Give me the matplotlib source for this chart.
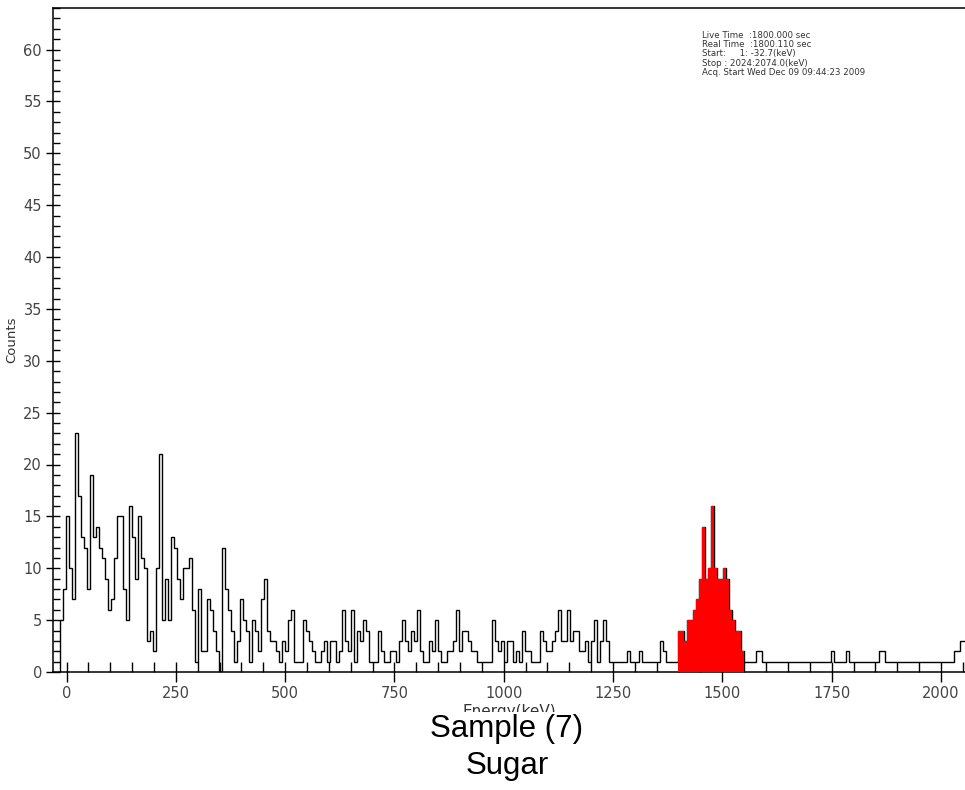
import numpy as np
import matplotlib
matplotlib.use("Agg")
import matplotlib.pyplot as plt
from matplotlib.patches import Rectangle
from matplotlib.ticker import MultipleLocator

# channel calibration (keV)
e_start = -14.0
e_width = 6.86

# counts per channel left to right
counts_low = [5, 8, 15, 10, 7, 23, 17, 13, 12, 8, 19, 13, 14, 12, 11, 9, 6, 7, 11, 15,
              15, 8, 5, 16, 13, 9, 15, 11, 10, 3, 4, 2, 10, 21, 5, 9, 5, 13, 12, 9,
              7, 10, 10, 11, 6, 1, 8, 2]
counts_mid1 = [2, 7, 6, 4, 2, 0, 12, 8, 6, 4, 1, 3, 7, 5, 4, 1, 5, 4, 2, 7,
               9, 4, 3, 3, 2, 1, 3, 2, 5, 6, 1, 1, 1, 5, 4, 3, 2, 1, 1, 2,
               3, 1, 3, 3, 1, 2, 6]
counts_mid2 = [3, 2, 6, 1, 4, 3, 5, 4, 1, 1, 1, 4, 2, 1, 1, 2, 2, 1, 3, 5,
               3, 2, 4, 3, 6, 2, 1, 1, 3, 2, 5, 2, 1, 1, 2, 2, 3, 6, 2, 4,
               4, 3, 2, 2, 1, 1, 1, 1, 1, 5, 3]
counts_mid3 = [2, 3, 1, 3, 3, 1, 2, 1, 4, 2, 2, 1, 1, 1, 4, 3, 2, 2, 3, 4,
               6, 3, 3, 6, 3, 4, 4, 2, 2, 3, 1, 3, 5, 1, 3, 5, 3, 1, 1, 1,
               1, 1, 1, 2, 1, 1, 1, 2, 1, 1, 1, 1, 1, 1]
counts_pre = [3, 2, 1, 1, 1, 1]
counts_peak = [4, 4, 3, 5, 5, 6, 7, 9, 14, 9, 10, 16, 10, 9, 9, 10, 9, 6, 5, 4, 4, 2]
counts_tail = [1, 1, 1, 1, 2, 2, 1, 1, 1, 1, 1, 1, 1, 1, 1, 1, 1, 1, 1, 1,
               1, 1, 1, 1, 1, 1, 1, 1, 1, 2, 1, 1, 1, 1, 2, 1, 1, 1, 1, 1,
               1, 1, 1, 1, 1, 2, 2, 1, 1, 1, 1, 1, 1, 1, 1, 1, 1, 1, 1, 1,
               1, 1, 1, 1, 1, 1, 1, 1, 1, 1, 2, 2, 3, 3]

info_lines = [
    "Live Time  :1800.000 sec",
    "Real Time  :1800.110 sec",
    "Start:     1: -32.7(keV)",
    "Stop : 2024:2074.0(keV)",
    "Acq. Start Wed Dec 09 09:44:23 2009",
]

narrow = ["Liberation Sans Narrow", "DejaVu Sans"]

counts = np.array(counts_low + counts_mid1 + counts_mid2 + counts_mid3
                  + counts_pre + counts_peak + counts_tail, dtype=float)
edges = e_start + e_width * np.arange(len(counts) + 1)
i0 = len(counts_low + counts_mid1 + counts_mid2 + counts_mid3 + counts_pre)
peak_edges = edges[i0:i0 + len(counts_peak) + 1]

fig = plt.figure(figsize=(9.65, 7.9), dpi=100)
ax = fig.add_axes([53 / 965, 1 - 672 / 790, 1 - 53 / 965, (672 - 8) / 790])

ax.stairs(counts, edges, color="k", lw=1.0)
ax.stairs(counts_peak, peak_edges, fill=True, color="#ff0000", lw=0, zorder=3)

ax.set_xlim(-31, 2055)
ax.set_ylim(0, 64)

ax.xaxis.set_major_locator(MultipleLocator(250))
ax.xaxis.set_minor_locator(MultipleLocator(50))
ax.yaxis.set_major_locator(MultipleLocator(5))
ax.yaxis.set_minor_locator(MultipleLocator(1))
ax.set_xticks([0, 250, 500, 750, 1000, 1250, 1500, 1750, 2000])
ax.tick_params(axis="x", which="major", direction="inout", length=14, width=1.0,
               pad=3, labelsize=10.5, labelcolor="#444444")
ax.tick_params(axis="x", which="minor", direction="in", length=7, width=1.0)
ax.tick_params(axis="y", which="major", direction="inout", length=10, width=1.0,
               pad=3, labelsize=10.5, labelcolor="#444444")
ax.tick_params(axis="y", which="minor", direction="in", length=5, width=1.0)
for lab in ax.get_xticklabels() + ax.get_yticklabels():
    lab.set_family(narrow)

for side in ["left", "bottom", "top"]:
    ax.spines[side].set_linewidth(1.1)
ax.spines["right"].set_visible(False)

ax.set_ylabel("Counts", family=narrow, fontsize=9.5, color="#333333")
ax.yaxis.set_label_coords(-35 / 912, (672 - 340) / 664)
ax.set_xlabel("Energy(keV)", family=narrow, fontsize=11, color="#333333", labelpad=2)

for n, line in enumerate(info_lines):
    fig.text(702 / 965, 1 - (35 + 9.4 * n) / 790, line, family=narrow,
             fontsize=6.2, color="#333333", va="center", ha="left")

# caption area pasted under the chart
fig.patches.append(Rectangle((0, 0), 1, (790 - 712) / 790, transform=fig.transFigure,
                             facecolor="white", edgecolor="none", zorder=5))
fig.text(507 / 965, 1 - 729 / 790, "Sample (7)", family="Liberation Sans",
         fontsize=22.5, ha="center", va="center", zorder=6)
fig.text(507 / 965, 1 - 766 / 790, "Sugar", family="Liberation Sans",
         fontsize=22.5, ha="center", va="center", zorder=6)

fig.savefig("out.png", dpi=100)
